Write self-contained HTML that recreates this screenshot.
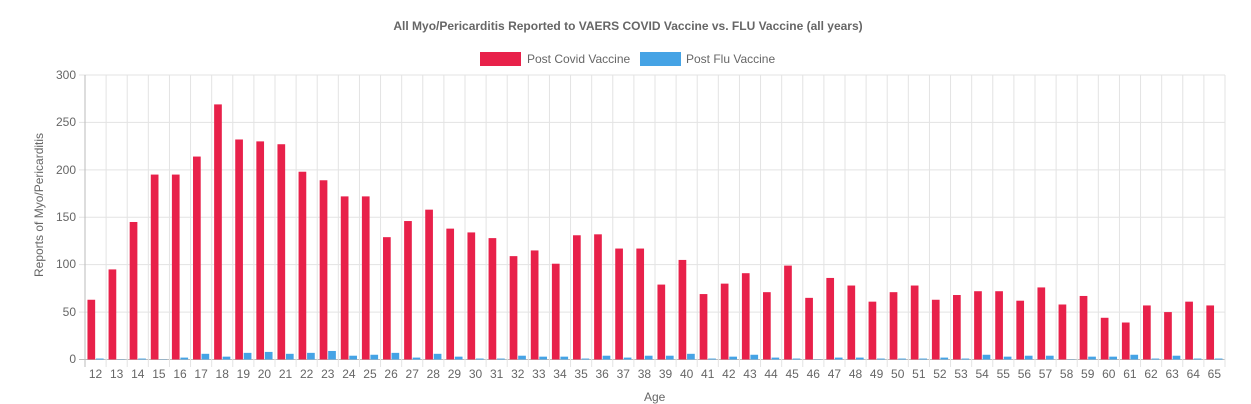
<!DOCTYPE html>
<html><head><meta charset="utf-8"><style>
body{margin:0;width:1251px;height:404px;background:#fff;font-family:"Liberation Sans",Arial,sans-serif;color:#666;position:relative;overflow:hidden}
.t{position:absolute;white-space:nowrap}
#xl{position:absolute;left:85px;top:367px;width:1140px;display:flex;font-size:12px}
#xl span{flex:1;text-align:center}
.yl{position:absolute;right:1175px;font-size:12px;text-align:right}
</style></head><body>
<div class="t" style="left:0;width:1256px;text-align:center;top:19px;font-size:12px;font-weight:bold">All Myo/Pericarditis Reported to VAERS COVID Vaccine vs. FLU Vaccine (all years)</div>
<div class="t" style="left:480px;top:52px;width:41px;height:14px;background:#e8214a"></div>
<div class="t" style="left:527px;top:52px;font-size:12px">Post Covid Vaccine</div>
<div class="t" style="left:640px;top:52px;width:41px;height:14px;background:#45a3e5"></div>
<div class="t" style="left:686px;top:52px;font-size:12px">Post Flu Vaccine</div>
<div class="yl" style="top:68px">300</div>
<div class="yl" style="top:115px">250</div>
<div class="yl" style="top:163px">200</div>
<div class="yl" style="top:210px">150</div>
<div class="yl" style="top:257px">100</div>
<div class="yl" style="top:305px">50</div>
<div class="yl" style="top:352px">0</div>
<div class="t" style="left:-21px;top:210px;font-size:12px;transform:rotate(-90deg);width:120px;text-align:center">Reports of Myo/Pericarditis</div>
<div class="t" style="left:644px;top:390px;font-size:12px">Age</div>
<div id="xl"><span>12</span><span>13</span><span>14</span><span>15</span><span>16</span><span>17</span><span>18</span><span>19</span><span>20</span><span>21</span><span>22</span><span>23</span><span>24</span><span>25</span><span>26</span><span>27</span><span>28</span><span>29</span><span>30</span><span>31</span><span>32</span><span>33</span><span>34</span><span>35</span><span>36</span><span>37</span><span>38</span><span>39</span><span>40</span><span>41</span><span>42</span><span>43</span><span>44</span><span>45</span><span>46</span><span>47</span><span>48</span><span>49</span><span>50</span><span>51</span><span>52</span><span>53</span><span>54</span><span>55</span><span>56</span><span>57</span><span>58</span><span>59</span><span>60</span><span>61</span><span>62</span><span>63</span><span>64</span><span>65</span></div>
<svg id="s" width="1251" height="404" style="position:absolute;left:0;top:0"></svg>
<script>
var r=[63,95,145,195,195,214,269,232,230,227,198,189,172,172,129,146,158,138,134,128,109,115,101,131,132,117,117,79,105,69,80,91,71,99,65,86,78,61,71,78,63,68,72,72,62,76,58,67,44,39,57,50,61,57];
var f=[1,0,1,0,2,6,3,7,8,6,7,9,4,5,7,2,6,3,1,1,4,3,3,1,4,2,4,4,6,1,3,5,2,1,0,2,2,1,1,1,2,1,5,3,4,4,0,3,3,5,1,4,1,1];
var x0=85,x1=1225,y0=359.5,k=284.5/300,w=(x1-x0)/54,h='';
for(var i=0;i<=6;i++){var y=y0-i*50*k;h+='<line x1="'+(x0-6)+'" x2="'+x1+'" y1="'+y+'" y2="'+y+'" stroke="'+(i==0?'#bbb':'#e3e3e3')+'"/>';}
for(var i=0;i<=54;i++){var x=x0+i*w;h+='<line x1="'+x+'" x2="'+x+'" y1="75" y2="367" stroke="'+(i==0?'#bbb':'#e3e3e3')+'"/>';}
for(var i=0;i<54;i++){var c=x0+i*w+w/2;
h+='<rect x="'+(c-8.1)+'" width="7.7" y="'+(y0-r[i]*k)+'" height="'+(r[i]*k)+'" fill="#e8214a"/>';
h+='<rect x="'+(c+0.4)+'" width="7.7" y="'+(y0-Math.max(f[i],0.3)*k)+'" height="'+(Math.max(f[i],0.3)*k)+'" fill="#45a3e5"/>';}
document.getElementById('s').innerHTML=h;
</script>
</body></html>
